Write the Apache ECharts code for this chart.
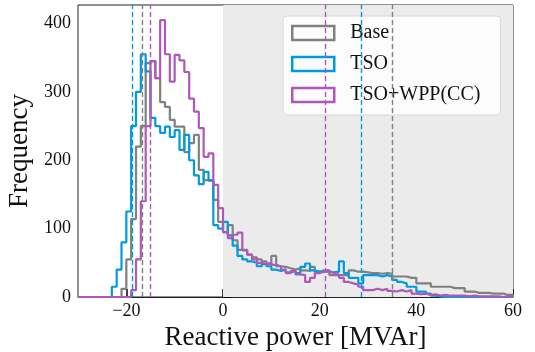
<!DOCTYPE html>
<html>
<head>
<meta charset="utf-8">
<script src="https://cdn.jsdelivr.net/npm/echarts@6/dist/echarts.min.js"></script>
<style>
  html, body { margin: 0; padding: 0; background: #fff; }
  #chart { width: 535px; height: 352px; }
</style>
</head>
<body>
<div id="chart"></div>
<script>
// histogram counts, one value per 1 MVAr bin, first bin starts at -30
const binStart = -30
const binWidth = 1

const base = [
  0, 0, 0, 0, 0, 0, 0, 0, 0,
  12, 55, 114, 220, 250, 342, 345, 320, 285, 278, 259, 249, 249, 212, 225, 237, 186, 171, 171, 142, 110,
  95, 105, 83, 69, 69, 62, 58, 55, 52, 48, 60, 45, 44, 42, 40, 42, 39, 38, 44, 37,
  39, 39, 32, 32, 32, 32, 39, 37, 37, 36, 35, 35, 34, 35, 34, 30, 30, 30, 28, 28,
  20, 20, 20, 15, 15, 15, 15, 13, 13, 13, 8, 8, 6, 6, 6, 5, 5, 5, 3, 3
]
const tso = [
  0, 0, 0, 0, 0, 0, 0,
  15, 40, 80, 125, 250, 300, 355, 330, 262, 250, 240, 249, 234, 244, 215, 237, 200, 178, 165, 183, 170, 105, 100,
  110, 90, 75, 60, 55, 52, 50, 45, 48, 45, 40, 38, 40, 36, 38, 35, 44, 49, 39, 37,
  37, 37, 36, 37, 52, 35, 28, 28, 20, 32, 32, 32, 30, 32, 30, 25, 22, 20, 15, 15,
  8, 8, 5, 2, 1, 0, 0, 0, 0, 0, 0, 0, 0, 0, 0, 0, 0, 0, 0, 0
]
const tsoWpp = [
  0, 0, 0, 0, 0, 0, 0, 0, 0, 0, 0,
  10, 55, 140, 250, 345, 320, 405, 355, 315, 354, 346, 329, 290, 271, 247, 205, 210, 164, 130,
  95, 86, 91, 94, 68, 62, 55, 50, 48, 50, 47, 45, 40, 35, 38, 33, 32, 22, 28, 35,
  37, 39, 36, 33, 28, 22, 20, 18, 15, 10, 10, 12, 10, 12, 9, 8, 10, 8, 10, 5,
  4, 5, 3, 4, 2, 3, 2, 2, 2, 2, 1, 2, 1, 1, 1, 1, 1, 0, 1, 0
]

// dashed reference lines (per series)
const lowLines = { base: -16.75, tso: -18.8, tsoWpp: -15.1 }
const highLines = { base: 35.0, tso: 28.6, tsoWpp: 21.2 }

const xTicks = [-20, 0, 20, 40, 60]
const yTicks = [0, 100, 200, 300, 400]

const colors = { base: '#808080', tso: '#009ade', tsoWpp: '#af58ba' }
const serif = "'Liberation Serif', 'DejaVu Serif', serif"

// turn counts into step points (left edge, count) and close the outline at the last edge
const toSteps = (counts) => {
  let pts = counts.map((c, i) => [binStart + i * binWidth, c])
  pts.push([binStart + counts.length * binWidth, 0])
  return pts
}

const makeSeries = (name, key, counts, extra) => {
  let s = {
    name: name,
    type: 'line',
    step: 'end',
    data: toSteps(counts),
    showSymbol: false,
    symbol: 'none',
    lineStyle: { color: colors[key], width: 2.2 },
    itemStyle: { color: colors[key] },
    markLine: {
      silent: true,
      symbol: ['none', 'none'],
      label: { show: false },
      lineStyle: { color: colors[key], type: [5, 3], width: 1.4 },
      data: [{ xAxis: lowLines[key] }, { xAxis: highLines[key] }]
    }
  }
  return Object.assign(s, extra || {})
}

let myChart = echarts.init(document.getElementById('chart'))
let option = {
  animation: false,
  grid: {
    left: 78,
    right: 22,
    top: 5,
    bottom: 55,
    outerBoundsMode: 'none',
    show: true,
    borderColor: '#222',
    borderWidth: 1
  },
  legend: {
    orient: 'vertical',
    left: 283,
    top: 16,
    padding: [7, 20, 10, 8],
    itemWidth: 42,
    itemHeight: 14,
    itemGap: 11,
    backgroundColor: 'rgba(255,255,255,0.82)',
    borderColor: '#d8d8d8',
    borderWidth: 1,
    borderRadius: 4,
    textStyle: { fontFamily: serif, fontSize: 20, color: '#111', padding: [0, 0, 0, 11] },
    data: [
      { name: 'Base', icon: 'rect', itemStyle: { color: 'transparent', borderColor: colors.base, borderWidth: 2.5 } },
      { name: 'TSO', icon: 'rect', itemStyle: { color: 'transparent', borderColor: colors.tso, borderWidth: 2.5 } },
      { name: 'TSO+WPP(CC)', icon: 'rect', itemStyle: { color: 'transparent', borderColor: colors.tsoWpp, borderWidth: 2.5 } }
    ]
  },
  xAxis: {
    type: 'value',
    min: -30,
    max: 60,
    name: 'Reactive power [MVAr]',
    nameLocation: 'middle',
    nameGap: 25,
    nameTextStyle: { fontFamily: serif, fontSize: 27, color: '#111' },
    axisLine: { show: true, lineStyle: { color: '#222', width: 1 } },
    axisTick: { inside: true, length: 8, customValues: xTicks, lineStyle: { color: '#000', width: 1.5 } },
    axisLabel: {
      customValues: xTicks,
      margin: 5,
      fontFamily: serif,
      fontSize: 18,
      color: '#111',
      formatter: (v) => (v < 0 ? '\u2212' + Math.abs(v) : String(v))
    },
    splitLine: { show: false }
  },
  yAxis: {
    type: 'value',
    min: 0,
    max: 427,
    name: 'Frequency',
    nameLocation: 'middle',
    nameGap: 39,
    nameTextStyle: { fontFamily: serif, fontSize: 27, color: '#111' },
    axisLine: { show: true, lineStyle: { color: '#222', width: 1 } },
    axisTick: { inside: true, length: 8, customValues: yTicks, lineStyle: { color: '#000', width: 1.5 } },
    axisLabel: { customValues: yTicks, margin: 7, fontFamily: serif, fontSize: 18, color: '#111' },
    splitLine: { show: false }
  },
  series: [
    makeSeries('Base', 'base', base, {
      markArea: {
        silent: true,
        itemStyle: { color: '#ebebeb' },
        data: [[{ xAxis: 0 }, { xAxis: 60 }]]
      }
    }),
    makeSeries('TSO', 'tso', tso),
    makeSeries('TSO+WPP(CC)', 'tsoWpp', tsoWpp)
  ]
}
myChart.setOption(option)
</script>
</body>
</html>
